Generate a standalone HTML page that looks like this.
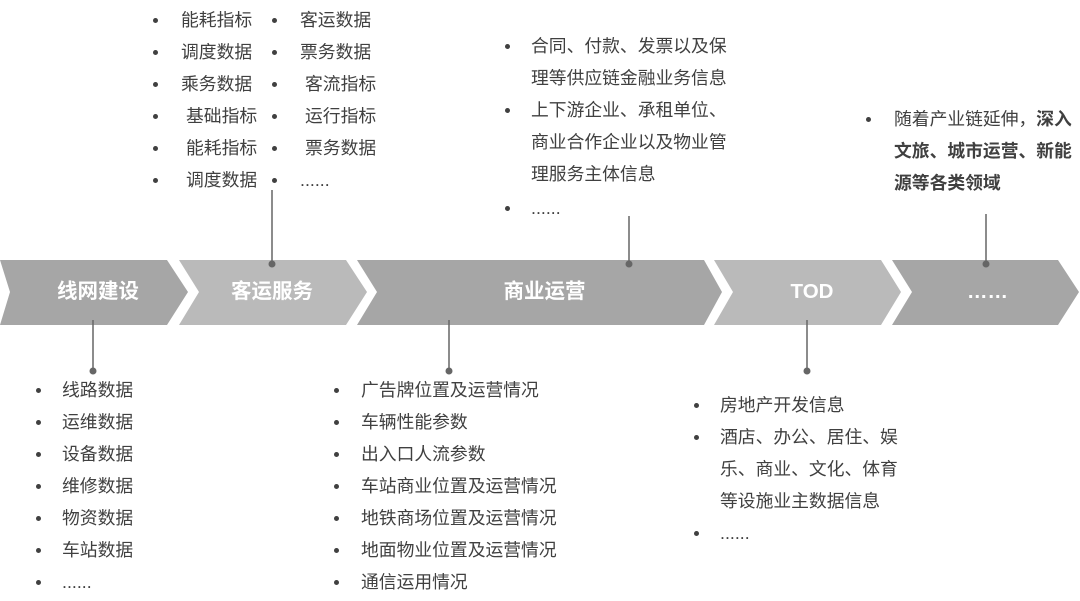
<!DOCTYPE html>
<html><head><meta charset="utf-8"><style>
html,body{margin:0;padding:0;background:#fff;}
#c{position:relative;width:1080px;height:601px;overflow:hidden;font-family:"Liberation Sans","Noto Sans CJK SC",sans-serif;}
.t{position:absolute;font-size:17.8px;line-height:24px;color:#404040;white-space:nowrap;}
.b{position:absolute;width:5px;height:5px;border-radius:50%;background:#404040;}
.lbl{position:absolute;color:#fff;font-weight:bold;font-size:20.5px;line-height:24px;top:280px;text-align:center;}
</style></head><body><div id="c">
<svg width="1080" height="601" style="position:absolute;left:0;top:0">
<polygon points="0,260 167,260 188,292 167,325 0,325 10,292" fill="#a6a6a6"/>
<polygon points="179,260 346,260 367,292 346,325 179,325 199,292" fill="#bababa"/>
<polygon points="357,260 704,260 722,292 704,325 357,325 377,292" fill="#a6a6a6"/>
<polygon points="714,260 881,260 901,292 881,325 714,325 733,292" fill="#bababa"/>
<polygon points="892,260 1058,260 1079,292 1058,325 892,325 912,292" fill="#a6a6a6"/>
<g stroke="#666" stroke-width="1.5">
<line x1="93" y1="320" x2="93" y2="371"/>
<line x1="272" y1="190" x2="272" y2="264"/>
<line x1="629" y1="216" x2="629" y2="264"/>
<line x1="449" y1="320" x2="449" y2="371"/>
<line x1="807" y1="320" x2="807" y2="371"/>
<line x1="986" y1="214" x2="986" y2="264"/>
</g>
<g fill="#666">
<circle cx="93" cy="371" r="3.5"/><circle cx="272" cy="264" r="3.5"/><circle cx="629" cy="264" r="3.5"/>
<circle cx="449" cy="371" r="3.5"/><circle cx="807" cy="371" r="3.5"/><circle cx="986" cy="264" r="3.5"/>
</g>
</svg>
<div class="lbl" style="left:18px;width:160px">线网建设</div>
<div class="lbl" style="left:192px;width:160px">客运服务</div>
<div class="lbl" style="left:372px;width:345px">商业运营</div>
<div class="lbl" style="left:727px;width:170px">TOD</div>
<div class="lbl" style="left:905px;width:165px">……</div>

<div class="b" style="left:153px;top:18px"></div><div class="t" style="left:181px;top:8px">能耗指标</div>
<div class="b" style="left:153px;top:50px"></div><div class="t" style="left:181px;top:40px">调度数据</div>
<div class="b" style="left:153px;top:82px"></div><div class="t" style="left:181px;top:72px">乘务数据</div>
<div class="b" style="left:153px;top:114px"></div><div class="t" style="left:186px;top:104px">基础指标</div>
<div class="b" style="left:153px;top:146px"></div><div class="t" style="left:186px;top:136px">能耗指标</div>
<div class="b" style="left:153px;top:178px"></div><div class="t" style="left:186px;top:168px">调度数据</div>
<div class="b" style="left:272px;top:18px"></div><div class="t" style="left:300px;top:8px">客运数据</div>
<div class="b" style="left:272px;top:50px"></div><div class="t" style="left:300px;top:40px">票务数据</div>
<div class="b" style="left:272px;top:82px"></div><div class="t" style="left:305px;top:72px">客流指标</div>
<div class="b" style="left:272px;top:114px"></div><div class="t" style="left:305px;top:104px">运行指标</div>
<div class="b" style="left:272px;top:146px"></div><div class="t" style="left:305px;top:136px">票务数据</div>
<div class="b" style="left:272px;top:178px"></div><div class="t" style="left:300px;top:168px">......</div>

<div class="b" style="left:505px;top:44px"></div><div class="t" style="left:531px;top:34px">合同、付款、发票以及保</div>
<div class="t" style="left:531px;top:66px">理等供应链金融业务信息</div>
<div class="b" style="left:505px;top:108px"></div><div class="t" style="left:531px;top:98px">上下游企业、承租单位、</div>
<div class="t" style="left:531px;top:130px">商业合作企业以及物业管</div>
<div class="t" style="left:531px;top:162px">理服务主体信息</div>
<div class="b" style="left:505px;top:206px"></div><div class="t" style="left:531px;top:196px">......</div>

<div class="b" style="left:866px;top:117px"></div><div class="t" style="left:894px;top:107px">随着产业链延伸，<b>深入</b></div>
<div class="t" style="left:894px;top:139px;font-weight:bold">文旅、城市运营、新能</div>
<div class="t" style="left:894px;top:171px;font-weight:bold">源等各类领域</div>

<div class="b" style="left:36px;top:388px"></div><div class="t" style="left:62px;top:378px">线路数据</div>
<div class="b" style="left:36px;top:420px"></div><div class="t" style="left:62px;top:410px">运维数据</div>
<div class="b" style="left:36px;top:452px"></div><div class="t" style="left:62px;top:442px">设备数据</div>
<div class="b" style="left:36px;top:484px"></div><div class="t" style="left:62px;top:474px">维修数据</div>
<div class="b" style="left:36px;top:516px"></div><div class="t" style="left:62px;top:506px">物资数据</div>
<div class="b" style="left:36px;top:548px"></div><div class="t" style="left:62px;top:538px">车站数据</div>
<div class="b" style="left:36px;top:580px"></div><div class="t" style="left:62px;top:570px">......</div>

<div class="b" style="left:334px;top:388px"></div><div class="t" style="left:361px;top:378px">广告牌位置及运营情况</div>
<div class="b" style="left:334px;top:420px"></div><div class="t" style="left:361px;top:410px">车辆性能参数</div>
<div class="b" style="left:334px;top:452px"></div><div class="t" style="left:361px;top:442px">出入口人流参数</div>
<div class="b" style="left:334px;top:484px"></div><div class="t" style="left:361px;top:474px">车站商业位置及运营情况</div>
<div class="b" style="left:334px;top:516px"></div><div class="t" style="left:361px;top:506px">地铁商场位置及运营情况</div>
<div class="b" style="left:334px;top:548px"></div><div class="t" style="left:361px;top:538px">地面物业位置及运营情况</div>
<div class="b" style="left:334px;top:580px"></div><div class="t" style="left:361px;top:570px">通信运用情况</div>

<div class="b" style="left:694px;top:403px"></div><div class="t" style="left:720px;top:393px">房地产开发信息</div>
<div class="b" style="left:694px;top:435px"></div><div class="t" style="left:720px;top:425px">酒店、办公、居住、娱</div>
<div class="t" style="left:720px;top:457px">乐、商业、文化、体育</div>
<div class="t" style="left:720px;top:489px">等设施业主数据信息</div>
<div class="b" style="left:694px;top:531px"></div><div class="t" style="left:720px;top:521px">......</div>
</div></body></html>
